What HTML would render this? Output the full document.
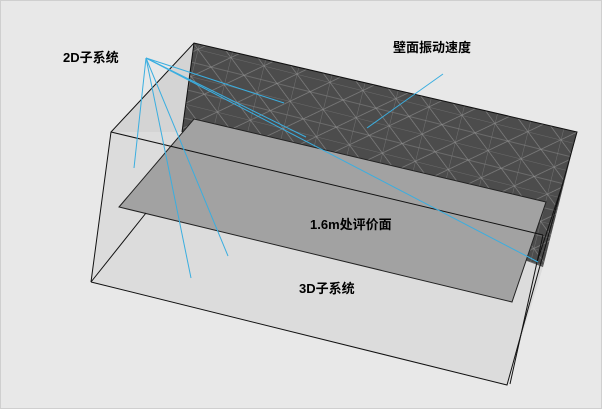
<!DOCTYPE html>
<html><head><meta charset="utf-8"><style>
html,body{margin:0;padding:0;background:#e8e8e8;}
svg{display:block}
text{font-family:"Liberation Sans","Noto Sans CJK SC",sans-serif;font-weight:bold;font-size:13px;fill:#000}
</style></head><body>
<svg width="602" height="409" viewBox="0 0 602 409" xmlns="http://www.w3.org/2000/svg">
<defs>
<pattern id="mesh" width="34" height="28" patternUnits="userSpaceOnUse" patternTransform="rotate(14)">
<path d="M0 0 L34 0 M0 14 L34 14 M0 0 L17 14 L34 0 M17 14 L0 28 M17 14 L34 28 M0 0 L0 28" stroke="#8a8a8a" stroke-width="0.6" fill="none"/>
</pattern>
</defs>
<rect x="0.5" y="0.5" width="601" height="408" fill="#e8e8e8" stroke="#cfcfcf"/>
<polygon points="111,132 194,43 182,132 91,282" fill="#d4d4d4"/>
<polygon points="91,282 111,132 182,132 543,267 507,385" fill="#dcdcdc"/>
<polygon points="194,43 577,132 543,267 182,132" fill="#4c4c4c"/>
<polygon points="194,43 577,132 543,267 182,132" fill="url(#mesh)"/>
<polygon points="119,207 194,119 546,202 512,302" fill="#a2a2a2" stroke="#222" stroke-width="1"/>
<g stroke="#111" stroke-width="1" fill="none">
<polyline points="91,282 111,132 194,43 577,132 507,385 91,282"/>
<line x1="194" y1="43" x2="182" y2="132"/>
<line x1="111" y1="132" x2="543" y2="235"/>
<line x1="543" y1="235" x2="510" y2="384"/>
<line x1="563" y1="183" x2="537" y2="262"/>
<line x1="91" y1="282" x2="146" y2="213"/>
</g>
<g stroke="#3aaee0" stroke-width="1">
<line x1="146" y1="58" x2="134" y2="168"/>
<line x1="146" y1="58" x2="191" y2="278"/>
<line x1="146" y1="58" x2="228" y2="256"/>
<line x1="146" y1="58" x2="284" y2="103"/>
<line x1="146" y1="58" x2="306" y2="137"/>
<line x1="146" y1="58" x2="538" y2="262"/>
<line x1="443" y1="74" x2="367" y2="128"/>
</g>
<text x="63" y="62">2D子系统</text>
<text x="393" y="52">壁面振动速度</text>
<text x="310" y="229">1.6m处评价面</text>
<text x="299" y="293">3D子系统</text>
</svg>
</body></html>
